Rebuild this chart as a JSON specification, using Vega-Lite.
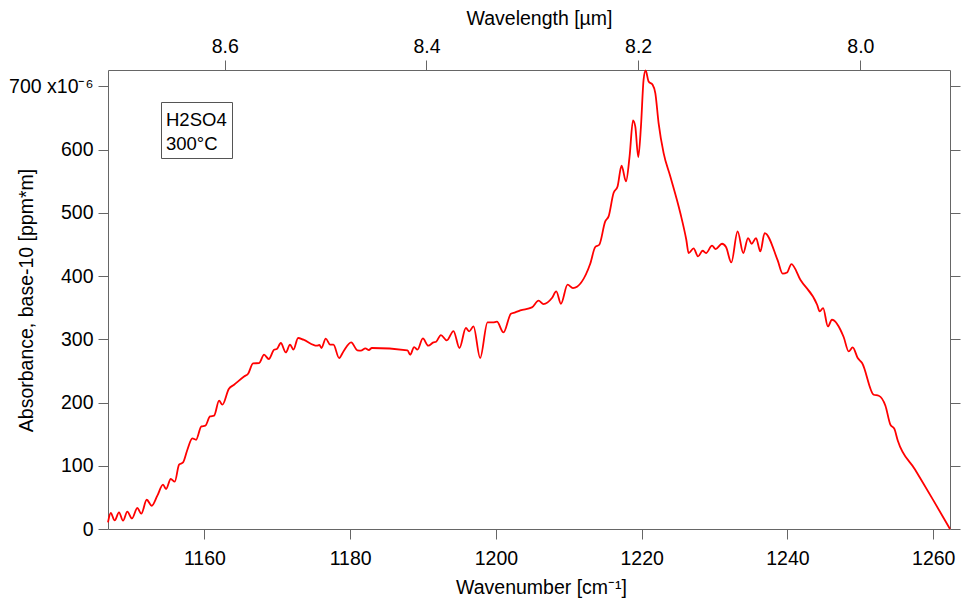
{
  "$schema": "https://vega.github.io/schema/vega-lite/v6.json",
  "width": 842,
  "height": 459,
  "autosize": {"type": "none"},
  "padding": {"left": 108, "top": 70, "right": 19, "bottom": 76},
  "data": {"values": [
    {"wn": 1146.78, "a": 10.4}, {"wn": 1147.15, "a": 25.3}, {"wn": 1147.70, "a": 13.6}, {"wn": 1148.29, "a": 26.3},
    {"wn": 1148.84, "a": 13.1}, {"wn": 1149.43, "a": 27.4}, {"wn": 1150.07, "a": 16.8}, {"wn": 1150.80, "a": 33.2},
    {"wn": 1151.35, "a": 24.2}, {"wn": 1152.09, "a": 46.3}, {"wn": 1152.78, "a": 36.8}, {"wn": 1153.55, "a": 52.7},
    {"wn": 1154.33, "a": 70.1}, {"wn": 1154.74, "a": 63.3}, {"wn": 1155.39, "a": 79.1}, {"wn": 1155.94, "a": 74.8},
    {"wn": 1156.53, "a": 101.7}, {"wn": 1157.08, "a": 105.3}, {"wn": 1157.67, "a": 125.4}, {"wn": 1158.35, "a": 143.3},
    {"wn": 1158.86, "a": 141.2}, {"wn": 1159.59, "a": 162.3}, {"wn": 1160.14, "a": 163.4}, {"wn": 1160.78, "a": 178.1},
    {"wn": 1161.33, "a": 179.2}, {"wn": 1162.02, "a": 202.9}, {"wn": 1162.47, "a": 196.6}, {"wn": 1163.35, "a": 221.4},
    {"wn": 1164.08, "a": 228.2}, {"wn": 1165.45, "a": 241.3}, {"wn": 1166.00, "a": 245.6}, {"wn": 1166.68, "a": 261.9},
    {"wn": 1167.51, "a": 262.5}, {"wn": 1168.19, "a": 275.7}, {"wn": 1168.84, "a": 268.9}, {"wn": 1169.57, "a": 283.6},
    {"wn": 1169.94, "a": 284.7}, {"wn": 1170.49, "a": 294.2}, {"wn": 1171.17, "a": 279.3}, {"wn": 1171.76, "a": 291.5},
    {"wn": 1172.22, "a": 283.6}, {"wn": 1172.86, "a": 302.1}, {"wn": 1173.59, "a": 299.4}, {"wn": 1175.43, "a": 289.9},
    {"wn": 1175.79, "a": 291.0}, {"wn": 1176.06, "a": 286.3}, {"wn": 1176.66, "a": 301.0}, {"wn": 1177.25, "a": 291.5},
    {"wn": 1177.71, "a": 291.5}, {"wn": 1178.49, "a": 270.4}, {"wn": 1179.08, "a": 280.9}, {"wn": 1180.14, "a": 295.1},
    {"wn": 1181.00, "a": 282.5}, {"wn": 1181.47, "a": 282.0}, {"wn": 1182.10, "a": 285.6}, {"wn": 1182.57, "a": 283.1},
    {"wn": 1182.98, "a": 286.3}, {"wn": 1187.87, "a": 282.5}, {"wn": 1188.24, "a": 275.7}, {"wn": 1188.78, "a": 287.8},
    {"wn": 1189.24, "a": 283.6}, {"wn": 1189.98, "a": 301.4}, {"wn": 1190.71, "a": 289.9}, {"wn": 1191.43, "a": 295.1},
    {"wn": 1191.80, "a": 296.2}, {"wn": 1192.45, "a": 306.8}, {"wn": 1193.27, "a": 298.3}, {"wn": 1194.18, "a": 313.1},
    {"wn": 1195.00, "a": 286.3}, {"wn": 1195.88, "a": 317.9}, {"wn": 1196.34, "a": 312.5}, {"wn": 1196.92, "a": 320.4},
    {"wn": 1197.84, "a": 270.4}, {"wn": 1198.85, "a": 326.7}, {"wn": 1199.59, "a": 326.7}, {"wn": 1200.14, "a": 327.9},
    {"wn": 1201.04, "a": 310.9}, {"wn": 1202.06, "a": 340.5}, {"wn": 1202.65, "a": 342.6}, {"wn": 1203.34, "a": 345.7},
    {"wn": 1204.94, "a": 350.5}, {"wn": 1205.85, "a": 361.1}, {"wn": 1206.53, "a": 355.8}, {"wn": 1207.69, "a": 365.3},
    {"wn": 1208.28, "a": 375.8}, {"wn": 1208.92, "a": 356.3}, {"wn": 1209.83, "a": 386.4}, {"wn": 1210.57, "a": 381.1},
    {"wn": 1212.94, "a": 419.6}, {"wn": 1213.63, "a": 446.0}, {"wn": 1214.18, "a": 449.6}, {"wn": 1215.00, "a": 486.5},
    {"wn": 1215.46, "a": 494.4}, {"wn": 1216.14, "a": 531.4}, {"wn": 1216.69, "a": 541.8}, {"wn": 1217.24, "a": 574.6},
    {"wn": 1217.85, "a": 549.7}, {"wn": 1218.34, "a": 589.3}, {"wn": 1218.81, "a": 646.2}, {"wn": 1219.12, "a": 636.7},
    {"wn": 1219.53, "a": 588.3}, {"wn": 1219.90, "a": 636.7}, {"wn": 1220.26, "a": 710.6}, {"wn": 1220.54, "a": 725.3},
    {"wn": 1220.95, "a": 707.9}, {"wn": 1221.50, "a": 702.7}, {"wn": 1221.87, "a": 689.5}, {"wn": 1222.32, "a": 642.1},
    {"wn": 1223.01, "a": 594.6}, {"wn": 1223.93, "a": 557.6}, {"wn": 1225.30, "a": 499.8}, {"wn": 1226.12, "a": 457.5},
    {"wn": 1226.44, "a": 436.5}, {"wn": 1227.12, "a": 443.8}, {"wn": 1227.73, "a": 431.1}, {"wn": 1228.36, "a": 440.1},
    {"wn": 1228.83, "a": 436.5}, {"wn": 1229.65, "a": 448.1}, {"wn": 1230.15, "a": 442.8}, {"wn": 1231.02, "a": 451.2},
    {"wn": 1231.57, "a": 446.0}, {"wn": 1232.30, "a": 421.6}, {"wn": 1233.16, "a": 470.7}, {"wn": 1233.94, "a": 436.5},
    {"wn": 1234.59, "a": 460.2}, {"wn": 1235.09, "a": 451.2}, {"wn": 1235.69, "a": 460.2}, {"wn": 1236.28, "a": 439.0},
    {"wn": 1236.87, "a": 468.1}, {"wn": 1238.66, "a": 424.8}, {"wn": 1239.34, "a": 403.8}, {"wn": 1239.95, "a": 405.8},
    {"wn": 1240.54, "a": 419.1}, {"wn": 1241.77, "a": 394.3}, {"wn": 1244.07, "a": 354.7}, {"wn": 1244.42, "a": 344.1},
    {"wn": 1244.89, "a": 349.5}, {"wn": 1245.55, "a": 320.4}, {"wn": 1246.10, "a": 331.0}, {"wn": 1247.71, "a": 303.7},
    {"wn": 1248.40, "a": 280.9}, {"wn": 1248.95, "a": 287.2}, {"wn": 1249.64, "a": 270.4}, {"wn": 1250.24, "a": 262.5},
    {"wn": 1251.83, "a": 212.4}, {"wn": 1252.52, "a": 210.8}, {"wn": 1253.44, "a": 195.0}, {"wn": 1254.12, "a": 165.0},
    {"wn": 1254.67, "a": 158.2}, {"wn": 1255.13, "a": 140.1}, {"wn": 1257.50, "a": 94.1}, {"wn": 1260.00, "a": 45.7},
    {"wn": 1262.30, "a": 0}
  ]},
  "layer": [
    {
      "mark": {"type": "line", "strokeWidth": 1.8, "interpolate": "monotone", "strokeJoin": "round"},
      "encoding": {
        "x": {"field": "wn", "type": "quantitative",
          "scale": {"domain": [1146.78, 1262.3], "nice": false, "zero": false},
          "axis": {"orient": "bottom", "values": [1160, 1180, 1200, 1220, 1240, 1260], "format": "d",
            "labelPadding": 10, "titlePadding": 11, "labelFlush": false, "labelOverlap": false,
            "title": "Wavenumber [cm⁻¹]", "titleX": 433}},
        "y": {"field": "a", "type": "quantitative",
          "scale": {"domain": [0, 726], "nice": false, "zero": false},
          "axis": {"orient": "left", "values": [0, 100, 200, 300, 400, 500, 600, 700],
            "labelExpr": "datum.value == 700 ? '700 x10⁻⁶' : datum.label",
            "labelPadding": 5, "labelFlush": false, "labelOverlap": false,
            "title": "Absorbance, base-10 [ppm*m]", "titleX": -82, "titleY": 230, "titleBaseline": "middle"}},
        "color": {"datum": "H2SO4", "type": "nominal", "scale": {"range": ["#ff0000"]},
          "legend": {"orient": "none", "legendX": 53, "legendY": 32, "title": ["H2SO4", "300°C"],
            "titleOrient": "bottom", "titleAnchor": "start", "titleFontSize": 18.5, "titleFontWeight": "normal",
            "titleColor": "#000", "titleLineHeight": 23.5, "titlePadding": 2,
            "labelExpr": "'                                                                                                                            '",
            "labelFontSize": 2, "labelOpacity": 0, "labelOffset": 4, "labelLimit": 300,
            "symbolSize": 0, "symbolOpacity": 0, "padding": 5, "strokeColor": "#555", "fillColor": "#ffffff"}}
      }
    },
    {
      "mark": {"type": "line", "opacity": 0},
      "encoding": {
        "x": {"field": "wn", "type": "quantitative",
          "scale": {"domain": [1146.78, 1262.3], "nice": false, "zero": false},
          "axis": {"orient": "top", "values": [1162.7907, 1190.4762, 1219.5122, 1250],
            "labelExpr": "format(10000 / datum.value, '.1f')", "labelPadding": 4, "titlePadding": 8,
            "labelFlush": false, "labelOverlap": false, "title": "Wavelength [µm]", "titleX": 431}},
        "y": {"field": "a", "type": "quantitative",
          "scale": {"domain": [0, 726], "nice": false, "zero": false},
          "axis": {"orient": "right", "values": [0, 100, 200, 300, 400, 500, 600, 700], "labels": false, "title": null}}
      }
    }
  ],
  "resolve": {"scale": {"x": "independent", "y": "independent"}},
  "config": {
    "font": "Liberation Sans",
    "view": {"stroke": null},
    "axis": {"grid": false, "domainColor": "#666", "tickColor": "#666", "tickSize": 10,
      "labelFontSize": 19.5, "titleFontSize": 19.5, "labelColor": "#000", "titleColor": "#000",
      "titleFontWeight": "normal", "labelFont": "Liberation Sans", "titleFont": "Liberation Sans"},
    "legend": {"titleFont": "Liberation Sans", "labelFont": "Liberation Sans"}
  }
}
